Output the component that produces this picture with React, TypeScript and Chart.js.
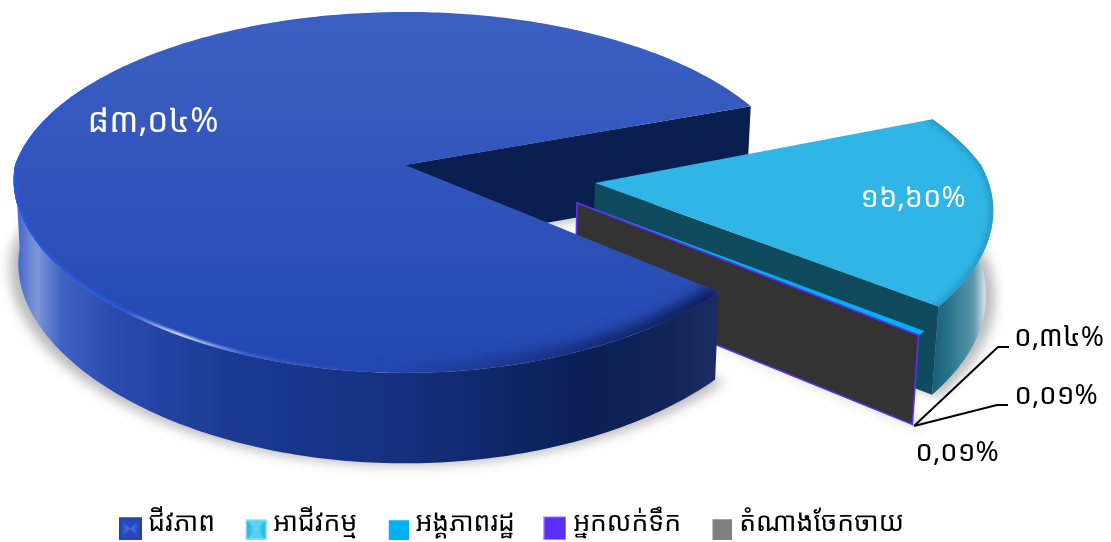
import React, { useEffect, useRef } from "react";
import { Chart, registerables } from "chart.js";

Chart.register(...registerables);

const categories = ["ជីវភាព", "អាជីវកម្ម", "អង្គភាពរដ្ឋ", "អ្នកលក់ទឹក", "តំណាងចែកចាយ"];
const shares = [83.04, 16.6, 0.34, 0.01, 0.01];
const sliceColors = ["#2a4db5", "#2fb6e7", "#00b0f0", "#5b2dff", "#808080"];
const wallColors = ["#0a1e50", "#0f4a5d", "#00b0f0", "#5b2dff", "#333333"];

const KHMER_DIGITS = "០១២៣៤៥៦៧៨៩";
const FONT = '"Noto Sans Khmer", "Khmer OS", "Noto Sans", "DejaVu Sans", sans-serif';

const toKhmer = (v: number) =>
  v.toFixed(2).replace(".", ",").replace(/\d/g, (d) => KHMER_DIGITS[+d]) + "%";

// projection of the pie plane
const P = { cx: 405, cy: 165, a: 176.3, b: 390, k: 0.152, kx: 0.1, kxBack: 0.16, depth: 83, taper: 0.012 };
const EXPLODE: [number, number][] = [
  [0, 0],
  [0.482, 0.1],
  [0.432, 0.209],
  [0.432, 0.209],
  [0.432, 0.209],
];
const EXPLODED_TURN = (-1.2 * Math.PI) / 180;

type Pt = [number, number];
const proj = (u: number, v: number, z: number): Pt => {
  const w = 1 / (1 - P.k * v);
  const wx = 1 / (1 - (v < 0 ? P.kxBack : P.kx) * v);
  const x = P.cx + P.b * u * wx;
  const y = P.cy + P.a * v * w;
  const wz = 1 + (w - 1) * 0.5;
  return [P.cx + (x - P.cx) * (1 - P.taper * z), y + z * P.depth * wz];
};
const arcPts = (ex: number, ey: number, a0: number, a1: number, z: number): Pt[] => {
  const n = Math.max(2, Math.ceil(Math.abs(a1 - a0) * 60));
  const out: Pt[] = [];
  for (let i = 0; i <= n; i++) {
    const t = a0 + ((a1 - a0) * i) / n;
    out.push(proj(ex + Math.cos(t), ey + Math.sin(t), z));
  }
  return out;
};
const path = (ctx: CanvasRenderingContext2D, pts: Pt[], close = true) => {
  ctx.beginPath();
  pts.forEach((p, i) => (i ? ctx.lineTo(p[0], p[1]) : ctx.moveTo(p[0], p[1])));
  if (close) ctx.closePath();
};
const hGrad = (ctx: CanvasRenderingContext2D, x0: number, x1: number, stops: [number, string][]) => {
  const g = ctx.createLinearGradient(x0, 0, x1, 0);
  stops.forEach(([s, c]) => g.addColorStop(s, c));
  return g;
};

const pie3d = {
  id: "pie3d",
  beforeDatasetsDraw(chart: any) {
    const ctx: CanvasRenderingContext2D = chart.ctx;
    const arcs = chart.getDatasetMeta(0).data;
    const geo = arcs.map((el: any, i: number) => ({
      s: el.startAngle + (i ? EXPLODED_TURN : 0),
      e: el.endAngle + (i ? EXPLODED_TURN : 0),
      ex: EXPLODE[i][0],
      ey: EXPLODE[i][1],
    }));
    const top = (g: any) => [proj(g.ex, g.ey, 0), ...arcPts(g.ex, g.ey, g.s, g.e, 0)];
    const base = (g: any) => [proj(g.ex, g.ey, 1), ...arcPts(g.ex, g.ey, g.s, g.e, 1)];
    const rim = (g: any, a0 = g.s, a1 = g.e) => [
      ...arcPts(g.ex, g.ey, a0, a1, 0),
      ...arcPts(g.ex, g.ey, a1, a0, 1),
    ];
    const wall = (g: any, a: number) => [
      proj(g.ex, g.ey, 0),
      proj(g.ex + Math.cos(a), g.ey + Math.sin(a), 0),
      proj(g.ex + Math.cos(a), g.ey + Math.sin(a), 1),
      proj(g.ex, g.ey, 1),
    ];

    ctx.save();
    // floor shadow
    ctx.save();
    ctx.filter = "blur(6px)";
    ctx.fillStyle = "rgba(0,0,0,0.27)";
    geo.forEach((g: any, i: number) => {
      const pts = base(g).map(([x, y]: Pt): Pt => {
        const c = i === 0 ? 405 : 560;
        return [c + (x - c) * 1.02, y + 2];
      });
      path(ctx, pts);
      ctx.fill();
    });
    ctx.restore();

    // the big slice's visible cut wall
    const big = geo[0];
    P.kx = 0.085;
    path(ctx, wall(big, big.e));
    ctx.fillStyle = wallColors[0];
    ctx.fill();

    // light blue slice
    P.kx = 0.1;
    const b = geo[1];
    path(ctx, rim(b));
    ctx.fillStyle = hGrad(ctx, 925, 990, [
      [0, "#0f566f"],
      [0.4, "#2a7690"],
      [0.75, "#5f96ab"],
      [0.92, "#cfe0e7"],
      [1, "#9dbecb"],
    ]);
    ctx.fill();
    path(ctx, wall(b, b.e));
    ctx.fillStyle = wallColors[1];
    ctx.fill();
    path(ctx, top(b));
    ctx.fillStyle = sliceColors[1];
    ctx.fill();
    ctx.save();
    path(ctx, top(b));
    ctx.clip();
    ctx.filter = "blur(3px)";
    path(ctx, arcPts(b.ex, b.ey, 0.5, b.e, 0), false);
    ctx.strokeStyle = "rgba(15,80,105,0.35)";
    ctx.lineWidth = 6;
    ctx.stroke();
    ctx.restore();

    // slivers
    [2, 3, 4].forEach((i) => {
      const g = geo[i];
      path(ctx, top(g));
      ctx.fillStyle = sliceColors[i];
      ctx.fill();
      ctx.strokeStyle = sliceColors[i];
      ctx.lineWidth = 1;
      ctx.stroke();
      if (i === 4) {
        path(ctx, wall(g, g.e));
        ctx.fillStyle = wallColors[4];
        ctx.fill();
        ctx.strokeStyle = sliceColors[3];
        ctx.lineWidth = 1.6;
        ctx.stroke();
      }
    });

    // big slice rim and top
    P.kx = 0.085;
    path(ctx, rim(big, big.s, Math.PI));
    ctx.fillStyle = hGrad(ctx, 12, 720, [
      [0, "#3458c6"],
      [0.035, "#7f97d8"],
      [0.07, "#3f62c4"],
      [0.14, "#2a4cae"],
      [0.3, "#1c3a94"],
      [0.55, "#15307f"],
      [0.8, "#0b1f56"],
      [0.93, "#122458"],
      [1, "#1c2d64"],
    ]);
    ctx.fill();
    path(ctx, top(big));
    const tg = ctx.createLinearGradient(0, 12, 0, 375);
    tg.addColorStop(0, "#3c60c2");
    tg.addColorStop(1, "#2347b2");
    ctx.fillStyle = tg;
    ctx.fill();
    ctx.save();
    path(ctx, top(big));
    ctx.clip();
    ctx.save();
    ctx.filter = "blur(6px)";
    path(ctx, arcPts(0, 0, big.s, Math.PI * 0.7, 0), false);
    ctx.strokeStyle = hGrad(ctx, 380, 720, [
      [0, "rgba(10,25,80,0)"],
      [1, "rgba(10,25,80,0.95)"],
    ]);
    ctx.lineWidth = 20;
    ctx.stroke();
    ctx.restore();
    ctx.filter = "blur(1px)";
    path(ctx, arcPts(0, 0, Math.PI * 0.35, Math.PI * 1.15, 0), false);
    ctx.strokeStyle = hGrad(ctx, 10, 400, [
      [0, "#2a58dc"],
      [0.3, "#2a58dc"],
      [0.43, "#dbe6ff"],
      [0.6, "#3a68d8"],
      [1, "rgba(40,70,170,0)"],
    ]);
    ctx.lineWidth = 5;
    ctx.stroke();
    ctx.restore();
    P.kx = 0.1;

    // value labels and leader lines
    ctx.strokeStyle = "#000";
    ctx.lineWidth = 2;
    ctx.beginPath();
    ctx.moveTo(914, 426);
    ctx.lineTo(998, 347);
    ctx.lineTo(1009, 347);
    ctx.moveTo(914, 426);
    ctx.lineTo(997, 405);
    ctx.lineTo(1008, 405);
    ctx.stroke();

    const labelPos: [number, number, string, number][] = [
      [153, 122, "#fff", 34],
      [913, 199, "#fff", 29],
      [1059, 338, "#000", 28],
      [1056, 396, "#000", 28],
      [957, 453, "#000", 28],
    ];
    ctx.textAlign = "center";
    ctx.textBaseline = "middle";
    shares.forEach((v, i) => {
      const [x, y, c, s] = labelPos[i];
      ctx.font = `${s}px ${FONT}`;
      ctx.fillStyle = c;
      ctx.fillText(toKhmer(v), x, y);
    });
    ctx.restore();
    return false;
  },
};

// legend swatches: the sprite is taller than the mark so that it sits below the text's centre
const SPRITE_W = 23;
const SPRITE_H = 33;
const icon = (mw: number, mh: number, draw: (c: CanvasRenderingContext2D, w: number, h: number) => void) => {
  const cv = document.createElement("canvas");
  cv.width = SPRITE_W;
  cv.height = SPRITE_H;
  const c = cv.getContext("2d") as CanvasRenderingContext2D;
  c.translate(SPRITE_W - mw, SPRITE_H - mh);
  draw(c, mw, mh);
  return cv;
};
const pillow = (mw: number, mh: number, border: string, flat: string, side: string, core: string) =>
  icon(mw, mh, (c, w, h) => {
    c.fillStyle = border;
    c.fillRect(0, 0, w, h);
    c.fillStyle = flat;
    c.fillRect(1.5, 1.5, w - 3, h - 3);
    const g = c.createLinearGradient(1.5, 0, w - 1.5, 0);
    g.addColorStop(0, side);
    g.addColorStop(0.5, core);
    g.addColorStop(1, side);
    c.fillStyle = g;
    c.beginPath();
    c.moveTo(1.5, 1.5);
    c.lineTo(w / 2, h / 2);
    c.lineTo(1.5, h - 1.5);
    c.closePath();
    c.moveTo(w - 1.5, 1.5);
    c.lineTo(w / 2, h / 2);
    c.lineTo(w - 1.5, h - 1.5);
    c.closePath();
    c.fill();
  });
const solid = (mw: number, mh: number, color: string, border?: string) =>
  icon(mw, mh, (c, w, h) => {
    c.fillStyle = color;
    c.fillRect(0, 0, w, h);
    if (border) {
      c.strokeStyle = border;
      c.strokeRect(0.5, 0.5, w - 1, h - 1);
    }
  });

export default function App() {
  const ref = useRef<HTMLCanvasElement>(null);
  useEffect(() => {
    document.body.style.margin = "0";
    const icons = [
      pillow(23, 23, "#2242b5", "#2547bc", "#1f3dac", "#4f7ef0"),
      pillow(21, 21, "#8fe0f8", "#55d2f5", "#1fb4de", "#6fdcf8"),
      solid(20, 20, "#00b0f0"),
      solid(23, 24, "#5b2dff", "#b9a5ff"),
      solid(20, 21, "#808080"),
    ];
    const chart = new Chart(ref.current as HTMLCanvasElement, {
      type: "pie",
      data: {
        labels: categories,
        datasets: [{ data: shares, backgroundColor: sliceColors, borderWidth: 0 }],
      },
      plugins: [pie3d],
      options: {
        responsive: false,
        animation: false,
        rotation: 130.5,
        layout: { padding: { right: 82, bottom: -5 } },
        plugins: {
          tooltip: { enabled: false },
          legend: {
            position: "bottom",
            labels: {
              usePointStyle: true,
              pointStyleWidth: 10,
              padding: 35,
              color: "#000",
              font: { family: FONT, size: 26.5 },
              generateLabels: () =>
                categories.map((text, i) => ({
                  text,
                  pointStyle: icons[i],
                  fillStyle: sliceColors[i],
                  strokeStyle: "transparent",
                  lineWidth: 0,
                  hidden: false,
                  index: i,
                })),
            },
          },
        },
      },
    } as any);
    return () => chart.destroy();
  }, []);
  return (
    <div style={{ position: "absolute", left: 0, top: 0, width: 1111, height: 542, background: "#fff" }}>
      <canvas ref={ref} width={1111} height={542} style={{ display: "block" }} />
    </div>
  );
}
